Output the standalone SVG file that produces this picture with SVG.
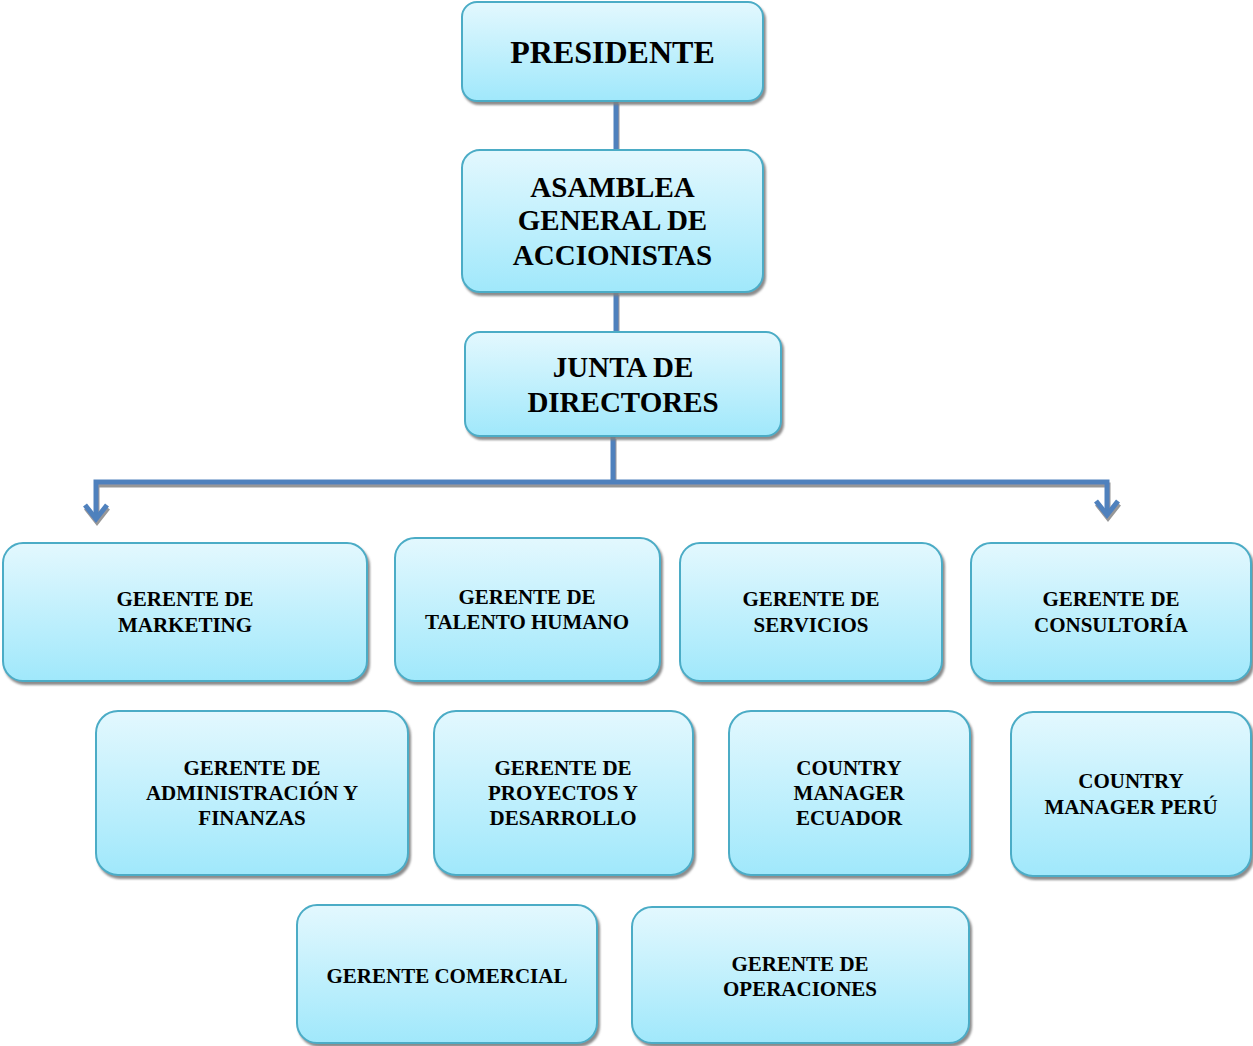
<svg xmlns="http://www.w3.org/2000/svg" width="1253" height="1046" viewBox="0 0 1253 1046">
<defs>
<linearGradient id="g" x1="0" y1="0" x2="0" y2="1">
<stop offset="0" stop-color="#e3f8fe"/>
<stop offset="1" stop-color="#a0e8fb"/>
</linearGradient>
<filter id="sh" x="-5%" y="-5%" width="115%" height="120%">
<feDropShadow dx="2" dy="3" stdDeviation="0.8" flood-color="#7f7f7f" flood-opacity="0.9"/>
</filter>
<filter id="lsh" x="-5%" y="-5%" width="115%" height="130%">
<feDropShadow dx="1" dy="3" stdDeviation="0.6" flood-color="#8c8c8c" flood-opacity="0.9"/>
</filter>
</defs>
<style>
.box{fill:url(#g);stroke:#4bacc6;stroke-width:2;filter:url(#sh)}
.t{font-family:"Liberation Serif","Times New Roman",serif;font-weight:bold;fill:#000;text-anchor:middle}
.big{font-size:32px}
.mid{font-size:29px}
.sm{font-size:21px}
.ln{fill:none;stroke:#4f81bd;stroke-width:5}
</style>
<rect width="1253" height="1046" fill="#fff"/>
<g id="connectors" filter="url(#lsh)">
<path class="ln" d="M616 101V150"/>
<path class="ln" d="M616 292V332"/>
<path class="ln" d="M613 436V482"/>
<path class="ln" d="M96 517V482H1107V513"/>
<path class="ln" d="M85 505L96 519L107 505" stroke-linejoin="miter"/>
<path class="ln" d="M1096 501L1107 515L1118 501" stroke-linejoin="miter"/>
</g>
<g id="presidente">
<rect class="box" x="462" y="2" width="301" height="99" rx="15"/>
<text class="t big" x="612.5" y="63">PRESIDENTE</text>
</g>
<g id="asamblea">
<rect class="box" x="462" y="150" width="301" height="142" rx="18"/>
<text class="t mid" x="612.5" y="197">ASAMBLEA</text>
<text class="t mid" x="612.5" y="230">GENERAL DE</text>
<text class="t mid" x="612.5" y="265">ACCIONISTAS</text>
</g>
<g id="junta">
<rect class="box" x="465" y="332" width="316" height="104" rx="15"/>
<text class="t mid" x="623" y="377">JUNTA DE</text>
<text class="t mid" x="623" y="412">DIRECTORES</text>
</g>
<g id="marketing">
<rect class="box" x="3" y="543" width="364" height="138" rx="20"/>
<text class="t sm" x="185" y="606">GERENTE DE</text>
<text class="t sm" x="185" y="632">MARKETING</text>
</g>
<g id="talento">
<rect class="box" x="395" y="538" width="265" height="143" rx="20"/>
<text class="t sm" x="527" y="604">GERENTE DE</text>
<text class="t sm" x="527" y="629">TALENTO HUMANO</text>
</g>
<g id="servicios">
<rect class="box" x="680" y="543" width="262" height="138" rx="20"/>
<text class="t sm" x="811" y="606">GERENTE DE</text>
<text class="t sm" x="811" y="632">SERVICIOS</text>
</g>
<g id="consultoria">
<rect class="box" x="971" y="543" width="280" height="138" rx="20"/>
<text class="t sm" x="1111" y="606">GERENTE DE</text>
<text class="t sm" x="1111" y="632">CONSULTORÍA</text>
</g>
<g id="administracion">
<rect class="box" x="96" y="711" width="312" height="164" rx="22"/>
<text class="t sm" x="252" y="775">GERENTE DE</text>
<text class="t sm" x="252" y="800">ADMINISTRACIÓN Y</text>
<text class="t sm" x="252" y="825">FINANZAS</text>
</g>
<g id="proyectos">
<rect class="box" x="434" y="711" width="259" height="164" rx="22"/>
<text class="t sm" x="563" y="775">GERENTE DE</text>
<text class="t sm" x="563" y="800">PROYECTOS Y</text>
<text class="t sm" x="563" y="825">DESARROLLO</text>
</g>
<g id="ecuador">
<rect class="box" x="729" y="711" width="241" height="164" rx="22"/>
<text class="t sm" x="849" y="775">COUNTRY</text>
<text class="t sm" x="849" y="800">MANAGER</text>
<text class="t sm" x="849" y="825">ECUADOR</text>
</g>
<g id="peru">
<rect class="box" x="1011" y="712" width="240" height="164" rx="22"/>
<text class="t sm" x="1131" y="788">COUNTRY</text>
<text class="t sm" x="1131" y="814">MANAGER PERÚ</text>
</g>
<g id="comercial">
<rect class="box" x="297" y="905" width="300" height="138" rx="20"/>
<text class="t sm" x="447" y="983">GERENTE COMERCIAL</text>
</g>
<g id="operaciones">
<rect class="box" x="632" y="907" width="337" height="136" rx="20"/>
<text class="t sm" x="800" y="971">GERENTE DE</text>
<text class="t sm" x="800" y="996">OPERACIONES</text>
</g>
</svg>
